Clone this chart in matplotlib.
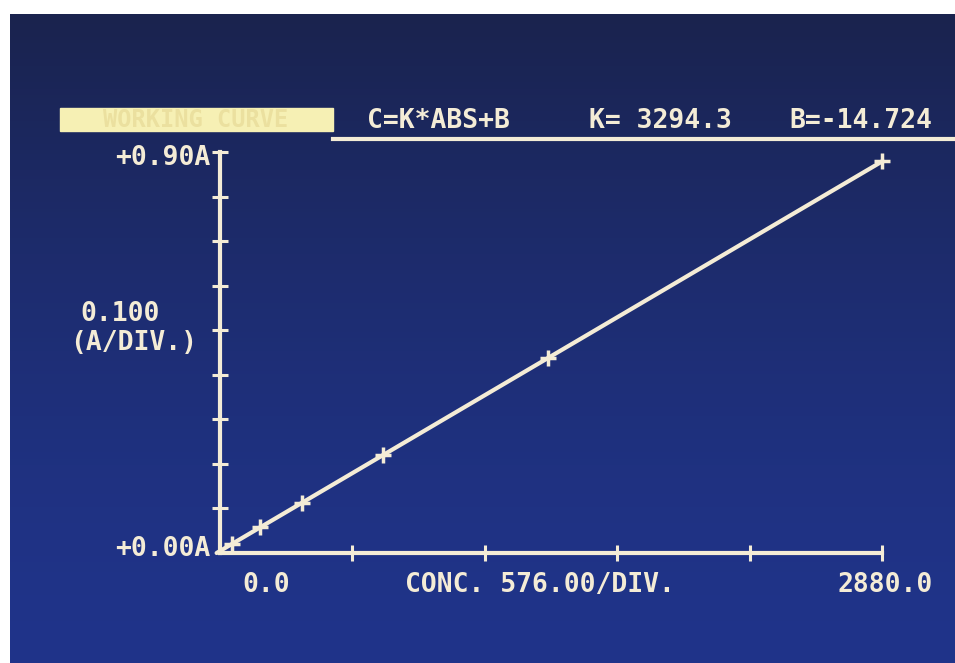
import numpy as np
import matplotlib
matplotlib.use("Agg")
import matplotlib.pyplot as plt

# calibration standards
conc = [52, 174, 357, 709, 1427, 2880]
absorb = [0.020, 0.058, 0.112, 0.221, 0.438, 0.879]

K = 3294.3
B = -14.724
x_max = 2880.0
x_div = 576.0
y_max = 0.90
y_div = 0.100

W, H = 955, 663
fg = '#f4ecd6'
font = dict(family='DejaVu Sans Mono', weight='bold', fontsize=19, color=fg)

fig = plt.figure(figsize=(W / 100, H / 100), dpi=100, facecolor='white')

def fx(px):
    return px / W

def fy(py):
    return 1 - py / H

# CRT screen background (darker at the top, like the photo)
bg = fig.add_axes([fx(10), 0, 1 - fx(10), fy(14)])
top = np.array([26, 35, 78]) / 255
bot = np.array([32, 52, 138]) / 255
t = np.linspace(0, 1, 200)[:, None]
grad = (top[None, :] * (1 - t) ** 1.5 + bot[None, :] * (1 - (1 - t) ** 1.5))[:, None, :]
bg.imshow(grad, aspect='auto', extent=[0, 1, 0, 1])
bg.set_xlim(0, 1)
bg.set_ylim(0, 1)
bg.axis('off')

# plot area
x0, y0, x1, y1 = 220, 553, 882, 152
ax = fig.add_axes([fx(x0), fy(y0), fx(x1 - x0), (y0 - y1) / H])
ax.patch.set_alpha(0)
ax.set_xlim(0, x_max)
ax.set_ylim(0, y_max)
for s in ['top', 'right']:
    ax.spines[s].set_visible(False)
for s in ['left', 'bottom']:
    ax.spines[s].set_color(fg)
    ax.spines[s].set_linewidth(3)
ax.set_xticks(np.arange(x_div, x_max + 1, x_div))
ax.set_yticks(np.arange(y_div, y_max + 0.001, y_div))
ax.tick_params(direction='inout', length=11, width=2.2, color=fg,
               labelbottom=False, labelleft=False)

# regression line C = K*ABS + B, plus the standards
a_fit = np.array([0.0, max(absorb)])
ax.plot(a_fit * K + B, a_fit, color=fg, lw=3, clip_on=False, solid_capstyle='round')
ax.plot(conc, absorb, ls='none', marker='+', ms=11, mew=2.5, color=fg, clip_on=False)

# header
fig.patches.append(plt.Rectangle((fx(60), fy(131)), fx(273), 23 / H,
                                 transform=fig.transFigure, color='#f6f0b4', zorder=1))
fig.text(fx(196), fy(120), 'WORKING CURVE', ha='center', va='center',
         **{**font, 'color': '#ebe09f', 'fontsize': 17})
fig.add_artist(plt.Line2D([fx(333), 1], [fy(139), fy(139)], color=fg, lw=3,
                          transform=fig.transFigure))
fig.text(fx(438), fy(121), 'C=K*ABS+B', ha='center', va='center', **font)
fig.text(fx(660), fy(121), 'K= %.1f' % K, ha='center', va='center', **font)
fig.text(fx(861), fy(121), 'B=%.3f' % B, ha='center', va='center', **font)

# y axis labels
fig.text(fx(210), fy(158), '+%.2fA' % y_max, ha='right', va='center', **font)
fig.text(fx(210), fy(549), '+0.00A', ha='right', va='center', **font)
fig.text(fx(120), fy(314), '%.3f' % y_div, ha='center', va='center', **font)
fig.text(fx(134), fy(343), '(A/DIV.)', ha='center', va='center', **font)

# x axis labels
fig.text(fx(266), fy(585), '0.0', ha='center', va='center', **font)
fig.text(fx(540), fy(585), 'CONC. %.2f/DIV.' % x_div, ha='center', va='center', **font)
fig.text(fx(885), fy(585), '%.1f' % x_max, ha='center', va='center', **font)

fig.savefig('out.png', dpi=100, facecolor='white')
